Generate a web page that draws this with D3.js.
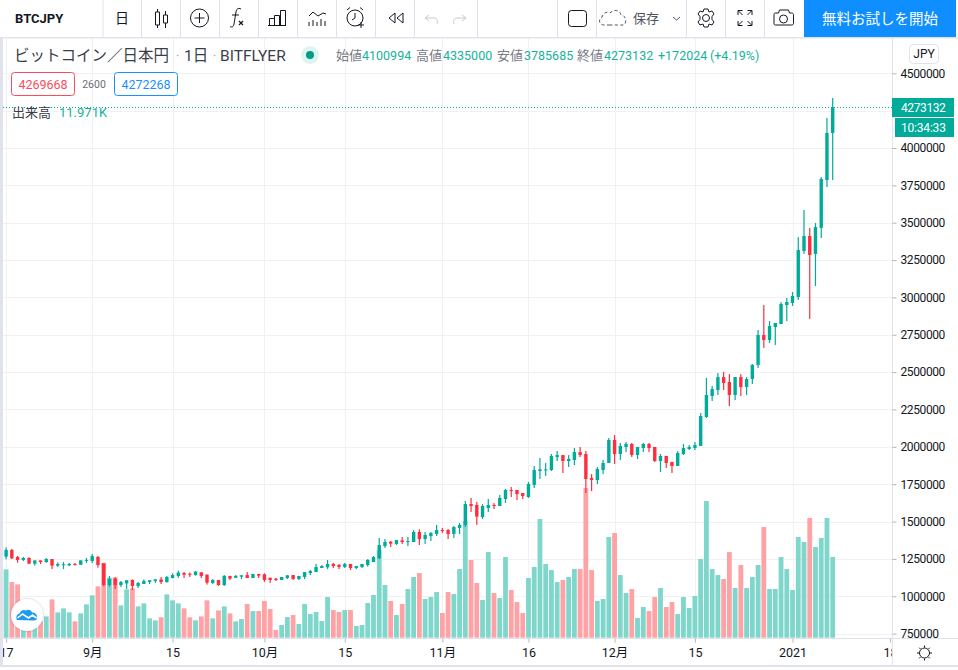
<!DOCTYPE html>
<html>
<head>
<meta charset="utf-8">
<script src="https://cdnjs.cloudflare.com/ajax/libs/d3/7.8.5/d3.min.js"></script>
<style>
  html, body { margin: 0; padding: 0; background: #fff; overflow: hidden; }
  text { font-family: Roboto, "Noto Sans CJK JP", sans-serif; }
</style>
</head>
<body>
<div id="chart"></div>
<script>
// values, prices in thousand yen, one entry per day from 17 Aug
var opens = [1265,1310,1263,1243,1256,1218,1240,1229,1249,1205,1209,1207,1216,1211,1238,1236,1263,1220,1075,1118,
  1075,1086,1109,1069,1082,1095,1102,1113,1095,1122,1136,1156,1151,1142,1160,1144,1089,1109,1075,1136,
  1124,1131,1142,1122,1149,1147,1124,1118,1109,1122,1142,1115,1129,1156,1162,1189,1194,1216,1209,1196,
  1216,1189,1196,1209,1229,1254,1336,1365,1350,1374,1365,1363,1430,1383,1403,1417,1443,1443,1417,1457,
  1477,1617,1611,1530,1591,1611,1604,1651,1711,1711,1691,1664,1745,1838,1845,1845,1932,1945,1905,1912,
  1965,1952,1791,1778,1845,1892,2046,1952,1999,2019,1945,1992,2019,1999,1905,1939,1899,1872,1952,1986,
  1992,2006,2200,2340,2380,2467,2434,2347,2467,2400,2454,2548,2749,2715,2802,2822,2949,2963,3003,3311,
  3411,3291,3465,3786,4101];
var highs = [1327,1316,1269,1263,1261,1240,1240,1256,1249,1227,1229,1223,1223,1240,1256,1283,1269,1220,1136,1127,
  1102,1107,1113,1095,1113,1107,1113,1129,1136,1153,1171,1162,1158,1169,1162,1147,1115,1109,1142,1136,
  1142,1142,1162,1149,1149,1153,1124,1122,1129,1142,1142,1136,1162,1176,1216,1209,1243,1223,1216,1223,
  1216,1202,1216,1249,1269,1390,1383,1370,1376,1397,1397,1443,1448,1430,1430,1477,1457,1450,1470,1490,
  1637,1658,1631,1617,1651,1624,1678,1718,1731,1711,1691,1765,1872,1925,1892,1952,1972,1945,1945,1992,
  1999,1972,1818,1865,1912,2059,2079,2026,2032,2026,1999,2026,2026,1999,1952,1939,1899,1972,2019,2012,
  2032,2226,2461,2407,2494,2501,2487,2467,2487,2467,2554,2782,2949,2842,2829,2969,2996,3036,3404,3585,
  3465,3498,3806,4201,4335];
var lows = [1247,1249,1225,1236,1216,1205,1216,1223,1182,1196,1182,1202,1205,1209,1223,1223,1191,1066,1064,1049,
  1062,1049,1042,1055,1082,1082,1089,1082,1091,1120,1124,1122,1129,1138,1122,1078,1082,1069,1069,1109,
  1122,1115,1122,1122,1122,1095,1089,1102,1109,1115,1109,1109,1115,1142,1162,1189,1182,1189,1182,1189,
  1176,1182,1189,1198,1229,1249,1323,1330,1343,1350,1336,1363,1343,1350,1370,1403,1423,1383,1390,1417,
  1463,1564,1477,1517,1564,1584,1604,1624,1664,1644,1651,1658,1724,1785,1805,1838,1905,1825,1865,1878,
  1932,1691,1704,1751,1818,1892,1885,1912,1965,1932,1919,1965,1965,1899,1832,1858,1825,1872,1945,1979,
  1979,2006,2193,2307,2347,2380,2273,2313,2340,2347,2421,2528,2662,2695,2682,2822,2842,2943,2983,3291,
  2856,3076,3398,3739,3786];
var closes = [1310,1254,1243,1256,1218,1240,1229,1249,1205,1216,1214,1216,1211,1240,1243,1269,1209,1075,1115,1075,
  1095,1107,1069,1089,1102,1107,1113,1095,1129,1142,1158,1144,1144,1165,1136,1091,1109,1075,1136,1118,
  1136,1140,1122,1149,1138,1109,1109,1109,1129,1140,1115,1136,1162,1169,1196,1202,1216,1202,1196,1216,
  1189,1202,1216,1243,1263,1343,1363,1352,1376,1363,1370,1430,1383,1410,1423,1443,1437,1417,1463,1477,
  1617,1604,1533,1604,1611,1604,1658,1711,1704,1684,1671,1751,1845,1849,1849,1939,1945,1905,1919,1965,
  1945,1785,1778,1852,1892,2046,1952,2006,2019,1945,1999,2019,1992,1905,1939,1892,1872,1959,1992,1999,
  2012,2206,2347,2387,2467,2427,2347,2467,2400,2454,2548,2749,2715,2809,2829,2956,2969,3010,3317,3411,
  3284,3471,3793,4101,4273];
// volume in thousand BTC
var volumes = [10.13,8.25,7.91,2.72,2.47,2.47,2.47,3.16,5.68,3.76,4.35,3.76,2.42,3.61,4.94,6.28,7.61,11.12,8.9,8.95,
  4.79,7.17,7.32,4.65,5.09,2.87,2.57,3.02,6.43,5.54,5.09,4.35,3.02,2.57,3.16,5.54,2.87,4.05,4.65,3.61,
  2.42,2.77,4.99,3.95,3.95,5.44,4.25,1.14,1.88,3.06,3.36,2.03,4.99,3.51,3.81,2.47,6.03,4.1,3.81,4.1,
  4.1,1.73,1.88,5.14,6.33,13,7.81,5.44,3.36,4.99,7.22,9,9.59,5.73,6.03,6.77,3.66,6.77,6.48,10.18,
  17.3,11.52,8.11,5.59,12.7,6.62,5.88,11.96,7.07,5.29,3.66,8.85,10.48,17.6,10.92,10.03,8.25,8.55,9,10.18,
  10.18,22.19,10.03,5.44,5.73,14.93,15.52,9.29,6.62,7.22,2.92,4.55,3.95,6.03,7.37,4.55,5.29,3.51,6.03,4.4,
  6.18,11.67,20.27,10.18,9.29,8.7,12.7,7.37,10.78,7.37,9,10.78,16.41,7.22,7.22,11.96,10.18,7.07,14.93,14.19,
  17.75,13.45,14.78,17.75,11.971];

var dayTicks = [0,15,29,45,59,76,91,106,120,137,154];
var dayLabels = ["17","9月","15","10月","15","11月","16","12月","15","2021","18"];
var priceTicks = [750000,1000000,1250000,1500000,1750000,2000000,2250000,2500000,2750000,3000000,
  3250000,3500000,3750000,4000000,4250000,4500000];

var legendParts = [["始値",336],["4100994",362],["高値",416],["4335000",443],["安値",497],["3785685",524],["終値",577],["4273132",604]];
var toolbarSeps = [103,141.5,180.5,219.5,258.5,297.5,336.5,375.5,414.5,477.5,557.5,596.5,686.5,725.5,764.5];

var width = 958, height = 670;
var up = "#00ab9a", down = "#ff2e3e", volUp = "#7fd6cb", volDown = "#ffa2a6";
var line = "#e0e3eb", gridCol = "#f1f1f3", ink = "#131722", teal = "#17b19c";

var svg = d3.select("#chart").append("svg")
  .attr("width", width)
  .attr("height", height)
  .style("display", "block");

var x = d3.scaleLinear().domain([0, 144]).range([6.1, 832.7]);
var y = d3.scaleLinear().domain([750000, 4500000]).range([633.6, 73.3]);
var yVol = d3.scaleLinear().domain([0, 25]).range([637.7, 469.1]);

// grid
var grid = svg.append("g");
grid.selectAll("line.h").data(priceTicks).enter().append("line")
  .attr("x1", 3).attr("x2", 892)
  .attr("y1", function (d) { return Math.round(y(d)) + 0.5; })
  .attr("y2", function (d) { return Math.round(y(d)) + 0.5; })
  .attr("stroke", gridCol);
grid.selectAll("line.v").data(dayTicks.slice(0, 10)).enter().append("line")
  .attr("x1", function (d) { return Math.round(x(d)) + 0.5; })
  .attr("x2", function (d) { return Math.round(x(d)) + 0.5; })
  .attr("y1", 37).attr("y2", 638)
  .attr("stroke", gridCol);

function isUp(i) { return closes[i] >= opens[i]; }

// volume bars
svg.append("g").selectAll("rect").data(volumes).enter().append("rect")
  .attr("x", function (d, i) { return x(i) - 2.4; })
  .attr("width", 4.8)
  .attr("y", function (d) { return yVol(d); })
  .attr("height", function (d) { return yVol(0) - yVol(d); })
  .attr("fill", function (d, i) { return isUp(i) ? volUp : volDown; });

// candles
var candles = svg.append("g").selectAll("g").data(opens).enter().append("g")
  .attr("fill", function (d, i) { return isUp(i) ? up : down; });
candles.append("rect")
  .attr("x", function (d, i) { return x(i) - 0.6; })
  .attr("width", 1.2)
  .attr("y", function (d, i) { return y(highs[i] * 1000); })
  .attr("height", function (d, i) { return y(lows[i] * 1000) - y(highs[i] * 1000); });
candles.append("rect")
  .attr("x", function (d, i) { return x(i) - 1.7; })
  .attr("width", 3.4)
  .attr("y", function (d, i) { return y(Math.max(d, closes[i]) * 1000); })
  .attr("height", function (d, i) { return Math.max(1, Math.abs(y(d * 1000) - y(closes[i] * 1000))); });

// last price line
svg.append("line")
  .attr("x1", 3).attr("x2", 892)
  .attr("y1", 107.5).attr("y2", 107.5)
  .attr("stroke", up).attr("stroke-dasharray", "1 2");

// frame
svg.append("rect").attr("x", 0).attr("y", 37).attr("width", 3).attr("height", 630).attr("fill", line);
svg.append("line").attr("x1", 3).attr("x2", 958).attr("y1", 638.5).attr("y2", 638.5).attr("stroke", line);
svg.append("line").attr("x1", 892.5).attr("x2", 892.5).attr("y1", 37).attr("y2", 666).attr("stroke", line);
svg.append("rect").attr("x", 0).attr("y", 665).attr("width", 958).attr("height", 2).attr("fill", line);

// price axis, the 4250000 label sits under the last price box
var priceAxis = svg.append("g")
  .attr("transform", "translate(892.5,0)")
  .call(d3.axisRight(y).tickValues(priceTicks).tickSize(4).tickPadding(4)
    .tickFormat(function (d) { return d === 4250000 ? "" : d3.format("d")(d); }));
priceAxis.select(".domain").remove();
priceAxis.selectAll("line").attr("stroke", "#b2b5be");
priceAxis.selectAll("text").attr("font-size", 12).attr("fill", ink)
  .attr("letter-spacing", -0.4);

// time axis
svg.append("clipPath").attr("id", "timeClip")
  .append("rect").attr("x", 3).attr("y", 0).attr("width", 889).attr("height", 26);
var timeAxis = svg.append("g")
  .attr("transform", "translate(0,638.5)")
  .attr("clip-path", "url(#timeClip)")
  .call(d3.axisBottom(x).tickValues(dayTicks).tickSize(4).tickPadding(6)
    .tickFormat(function (d, i) { return dayLabels[i]; }));
timeAxis.select(".domain").remove();
timeAxis.selectAll("line").attr("stroke", "#b2b5be");
timeAxis.selectAll("text").attr("font-size", 12.5).attr("fill", ink);

// price label boxes
svg.append("rect").attr("x", 892).attr("y", 98).attr("width", 62).attr("height", 19).attr("fill", up);
svg.append("rect").attr("x", 895).attr("y", 118).attr("width", 59).attr("height", 19).attr("fill", up);
svg.append("text").attr("x", 901).attr("y", 112).attr("font-size", 12).attr("fill", "#fff")
  .attr("letter-spacing", -0.4).text("4273132");
svg.append("text").attr("x", 901).attr("y", 132).attr("font-size", 12).attr("fill", "#fff")
  .attr("letter-spacing", -0.2).text("10:34:33");

// JPY button
svg.append("rect").attr("x", 909.5).attr("y", 44.5).attr("width", 29).attr("height", 19).attr("rx", 4)
  .attr("fill", "#fff").attr("stroke", line);
svg.append("text").attr("x", 924).attr("y", 58).attr("text-anchor", "middle")
  .attr("font-size", 12).attr("fill", ink).text("JPY");

// legend
svg.append("text").attr("x", 14).attr("y", 61).attr("font-size", 15.5).attr("fill", "#3a3e4a").text("ビットコイン／日本円");
svg.append("text").attr("x", 176).attr("y", 60).attr("font-size", 12).attr("fill", "#9598a1").text("·");
svg.append("text").attr("x", 184).attr("y", 61).attr("font-size", 15.5).attr("fill", "#3a3e4a").text("1日");
svg.append("text").attr("x", 213).attr("y", 60).attr("font-size", 12).attr("fill", "#9598a1").text("·");
svg.append("text").attr("x", 220).attr("y", 61).attr("font-size", 15.5).attr("fill", "#3a3e4a").text("BITFLYER");
svg.append("circle").attr("cx", 310).attr("cy", 55).attr("r", 9).attr("fill", "#dff3f0");
svg.append("circle").attr("cx", 310).attr("cy", 55).attr("r", 4).attr("fill", "#009c86");

svg.append("g").selectAll("text").data(legendParts).enter().append("text")
  .attr("x", function (d) { return d[1]; })
  .attr("y", 59.5)
  .attr("font-size", function (d, i) { return i % 2 ? 12.5 : 13; })
  .attr("fill", function (d, i) { return i % 2 ? teal : "#787b86"; })
  .text(function (d) { return d[0]; });
svg.append("text").attr("x", 658).attr("y", 59.5).attr("font-size", 12.5).attr("fill", teal).text("+172024");
svg.append("text").attr("x", 710).attr("y", 59.5).attr("font-size", 12.5).attr("fill", teal).text("(+4.19%)");

// buy / sell boxes
svg.append("rect").attr("x", 11.5).attr("y", 72.5).attr("width", 63).attr("height", 23).attr("rx", 3)
  .attr("fill", "#fff").attr("stroke", "#ff4a5a");
svg.append("text").attr("x", 43).attr("y", 89).attr("text-anchor", "middle").attr("font-size", 12.5)
  .attr("fill", "#ff4a5a").text("4269668");
svg.append("text").attr("x", 94).attr("y", 88).attr("text-anchor", "middle").attr("font-size", 10.5)
  .attr("fill", "#6a6d78").text("2600");
svg.append("rect").attr("x", 114.5).attr("y", 72.5).attr("width", 63).attr("height", 23).attr("rx", 3)
  .attr("fill", "#fff").attr("stroke", "#1a90ff");
svg.append("text").attr("x", 146).attr("y", 89).attr("text-anchor", "middle").attr("font-size", 12.5)
  .attr("fill", "#1a90ff").text("4272268");

// volume legend
svg.append("text").attr("x", 12).attr("y", 117).attr("font-size", 13).attr("fill", "#3a3e4a").text("出来高");
svg.append("text").attr("x", 59).attr("y", 117).attr("font-size", 13).attr("fill", teal).text("11.971K");

// toolbar
svg.append("rect").attr("width", width).attr("height", 37).attr("fill", "#fff");
svg.append("rect").attr("y", 37).attr("width", width).attr("height", 1.5).attr("fill", line);
svg.append("g").selectAll("line").data(toolbarSeps).enter().append("line")
  .attr("x1", function (d) { return d; }).attr("x2", function (d) { return d; })
  .attr("y1", 0).attr("y2", 37)
  .attr("stroke", line);
svg.append("rect").attr("x", 804).attr("width", 152).attr("height", 37).attr("fill", "#0f8fff");
svg.append("text").attr("x", 880).attr("y", 24).attr("text-anchor", "middle").attr("font-size", 14.5)
  .attr("fill", "#fff").text("無料お試しを開始");
svg.append("text").attr("x", 15).attr("y", 23).attr("font-size", 13).attr("font-weight", 700)
  .attr("fill", ink).text("BTCJPY");
svg.append("text").attr("x", 122).attr("y", 23).attr("text-anchor", "middle").attr("font-size", 14)
  .attr("fill", ink).text("日");
svg.append("text").attr("x", 633).attr("y", 23).attr("font-size", 13).attr("fill", "#50535e").text("保存");

function icon(d, col, sw, dash) {
  var p = svg.append("path").attr("d", d).attr("fill", "none")
    .attr("stroke", col || ink).attr("stroke-width", sw || 1);
  if (dash) p.attr("stroke-dasharray", dash);
  return p;
}
// candle type
icon("M155.5 12h4v13h-4zM157.5 9v3M157.5 25v3M163.5 15h4v8h-4zM165.5 11v4M165.5 23v5");
// indicators plus
svg.append("circle").attr("cx", 199.5).attr("cy", 18).attr("r", 9).attr("fill", "none").attr("stroke", ink);
icon("M199.5 13v10M194.5 18h10");
// fx
icon("M241 9c-3-1.5-4.5 0-5 3l-2 12c-.5 3-2 3.5-4 2.5M232 15h7");
icon("M239 21l4 4M243 21l-4 4", ink, 1.2);
// bars
icon("M269.5 25.5v-7h5v7zM274.5 25.5v-10h5v10zM280.5 25.5v-15h5v15zM268 25.5h18");
// template
icon("M309 16l4-4 5 4 5-3 3 1M309 26v-4M313 26v-6M317 26v-4M321 26v-7M325 26v-5");
// alarm
svg.append("circle").attr("cx", 355).attr("cy", 18).attr("r", 8).attr("fill", "none").attr("stroke", ink);
icon("M355 13v5l-3 2M347 10l3-2.5M363 10l-3-2.5M361 22v6M358 25h6");
// replay
icon("M395 13l-6 5 6 5zM403 13l-6 5 6 5z");
// undo redo
icon("M429 15l-4 3 4 3M425 18h9c3 0 4 3 3 6", "#c8cad0");
icon("M462 15l4 3-4 3M466 18h-9c-3 0-4 3-3 6", "#c8cad0");
// layout square
svg.append("rect").attr("x", 568.5).attr("y", 10.5).attr("width", 18).attr("height", 16).attr("rx", 3)
  .attr("fill", "none").attr("stroke", ink);
// cloud
icon("M610 25h-6c-5 0-6-6-2-8 1-4 5-6 8-4 4-4 10-3 11 2 5 0 6 8 3 10h-14", "#50535e", 1, "3 2.5");
// chevron
icon("M673 17l3.5 3 3.5-3", "#50535e");
// gear
svg.append("circle").attr("cx", 706).attr("cy", 18).attr("r", 3.5).attr("fill", "none").attr("stroke", ink);
icon("M704 9h4l1 3 3-1 2 3-2 2.5v3l2 2.5-2 3-3-1-1 3h-4l-1-3-3 1-2-3 2-2.5v-3l-2-2.5 2-3 3 1z");
// fullscreen
icon("M738 15v-4.5h4.5M752 15v-4.5h-4.5M738 21v4.5h4.5M752 21v4.5h-4.5M738.5 11l4 4M751.5 11l-4 4M738.5 25l4-4M751.5 25l-4-4");
// camera
icon("M774 14.5c0-1 .5-1.5 1.5-1.5h3l1-3h9l1 3h2c1 0 2 .5 2 1.5v9c0 1-1 1.5-2 1.5h-16c-1 0-1.5-.5-1.5-1.5z");
svg.append("circle").attr("cx", 783.5).attr("cy", 19).attr("r", 4).attr("fill", "none").attr("stroke", ink);

// sun button
svg.append("circle").attr("cx", 924.5).attr("cy", 653).attr("r", 5).attr("fill", "none").attr("stroke", ink);
icon("M924.5 645.5v2M924.5 658.5v2M917 653h2M930 653h2M919.2 647.7l1.4 1.4M928.4 656.9l1.4 1.4M929.8 647.7l-1.4 1.4M920.6 656.9l-1.4 1.4");

// logo
svg.append("defs").append("filter").attr("id", "shadow")
  .append("feDropShadow").attr("dx", 0).attr("dy", 0).attr("stdDeviation", 1.2)
  .attr("flood-color", "#000").attr("flood-opacity", 0.3);
svg.append("circle").attr("cx", 27).attr("cy", 615).attr("r", 16).attr("fill", "#fff")
  .attr("filter", "url(#shadow)");
svg.append("path")
  .attr("d", "M17 620c-1.5-3 0-6 2.5-6.5 1-3 4-4.5 6.5-3 2-1.5 5-.5 6 2 3 0 5.5 2 5 5 0 2-1 3-3 3z")
  .attr("fill", "#1a9af0");
svg.append("path")
  .attr("d", "M17.5 618l5-4 6 4 4-3 4 3")
  .attr("fill", "none").attr("stroke", "#fff").attr("stroke-width", 1.6);
</script>
</body>
</html>
